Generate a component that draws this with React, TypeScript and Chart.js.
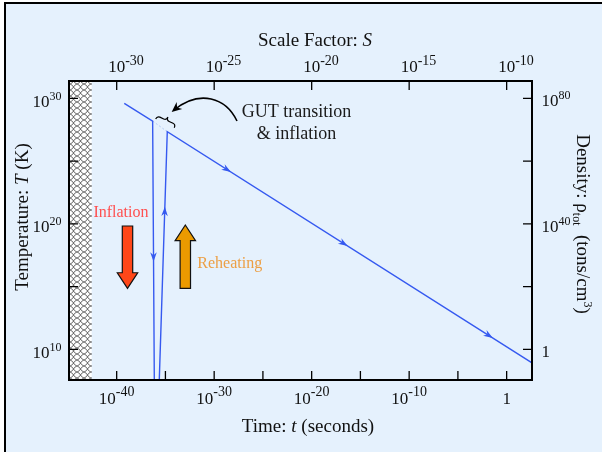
import React, { useEffect, useRef } from 'react';
import { Chart, registerables } from 'chart.js';
Chart.register(...registerables);

// ---- data (log10 exponents) ----
const TIME_EXP = [-39.22, -36.31, -36.14, -35.63, -34.81, 2.6];
const TEMP_EXP = [29.6, 28.19, 7.56, 7.56, 27.34, 8.93];
const GAP_TIME_EXP = [-36.31, -34.81];
const GAP_TEMP_EXP = [28.19, 27.34];
const PLANCK_EXP = -42.56;

const TIME_RANGE = [-44.89, 2.6];
const TEMP_RANGE = [7.56, 31.38];
const SCALE_RANGE = [-32.446, -8.7];
const DENSITY_RANGE = [-9.79, 85.51];

const TIME_TICKS = [-40, -35, -30, -25, -20, -15, -10, -5, 0];
const TIME_LABELS = [-40, -30, -20, -10, 0];
const SCALE_TICKS = [-30, -25, -20, -15, -10];
const SCALE_LABELS = [-30, -25, -20, -15, -10];
const TEMP_TICKS = [10, 15, 20, 25, 30];
const TEMP_LABELS = [10, 20, 30];
const DENSITY_TICKS = [0, 20, 40, 60, 80];
const DENSITY_LABELS = [0, 40, 80];

// flow arrowheads along the path: segment index and fraction
const FLOW_SEG = [4, 4, 4, 1, 3];
const FLOW_T = [0.163, 0.483, 0.881, 0.524, 0.678];

// annotation anchors (exponents)
const INFLATION_ARROW = [-38.89, 19.83, 14.86];
const REHEAT_ARROW = [-32.96, 14.86, 19.91];
const INFLATION_TEXT = [-39.56, 21.02];
const REHEAT_TEXT = [-31.73, 16.93];
const GUT_TEXT = [-21.56, 29.01, 27.26];

const BLUE = '#3559f0';
const BG = '#e5f1fd';
const SERIF = '"Liberation Serif", "Times New Roman", serif';

type Part = { t: string; f: string; dy?: number; c?: string };

function drawRich(ctx: CanvasRenderingContext2D, parts: Part[], x: number, y: number, align: string, color = '#111') {
  ctx.textBaseline = 'alphabetic';
  ctx.textAlign = 'left';
  let w = 0;
  const ws: number[] = [];
  for (const p of parts) {
    ctx.font = p.f;
    const m = ctx.measureText(p.t).width;
    ws.push(m);
    w += m;
  }
  let sx = align === 'center' ? x - w / 2 : align === 'right' ? x - w : x;
  parts.forEach((p, i) => {
    ctx.font = p.f;
    ctx.fillStyle = p.c || color;
    ctx.fillText(p.t, sx, y + (p.dy || 0));
    sx += ws[i];
  });
}

function powParts(e: number, base: string, sup: string, raise: number): Part[] {
  if (e === 0) return [{ t: '1', f: base }];
  return [
    { t: '10', f: base },
    { t: String(e), f: sup, dy: -raise },
  ];
}

function makeHatch(ctx: CanvasRenderingContext2D) {
  const c = document.createElement('canvas');
  c.width = 7;
  c.height = 6;
  const g = c.getContext('2d')!;
  g.fillStyle = '#ffffff';
  g.fillRect(0, 0, 7, 6);
  g.strokeStyle = '#3a3a3a';
  g.lineWidth = 0.75;
  g.beginPath();
  g.moveTo(0, 0);
  g.bezierCurveTo(4, 1, 3, 5, 7, 6);
  g.moveTo(7, 0);
  g.bezierCurveTo(3, 1, 4, 5, 0, 6);
  g.stroke();
  return ctx.createPattern(c, 'repeat');
}

const decor = {
  id: 'decor',
  beforeDraw(chart: any) {
    const ctx: CanvasRenderingContext2D = chart.ctx;
    ctx.save();
    ctx.fillStyle = '#ffffff';
    ctx.fillRect(0, 0, chart.width, chart.height);
    ctx.fillStyle = BG;
    ctx.fillRect(4, 2, chart.width - 4, chart.height - 2);
    ctx.fillStyle = '#000';
    ctx.fillRect(4, 2, chart.width - 4, 2);
    ctx.fillRect(4, 2, 2, chart.height - 2);
    ctx.restore();
  },
  beforeDatasetsDraw(chart: any) {
    const ctx: CanvasRenderingContext2D = chart.ctx;
    const a = chart.chartArea;
    const xr = chart.scales.x.getPixelForValue(Math.pow(10, PLANCK_EXP));
    ctx.save();
    const pat = makeHatch(ctx);
    if (pat) ctx.fillStyle = pat;
    ctx.fillRect(a.left, a.top, xr - a.left, a.bottom - a.top);
    ctx.restore();
  },
  afterDatasetsDraw(chart: any) {
    const ctx: CanvasRenderingContext2D = chart.ctx;
    const a = chart.chartArea;
    const sx = chart.scales.x, sy = chart.scales.y, sS = chart.scales.xS, sD = chart.scales.yD;
    const X = (e: number) => sx.getPixelForValue(Math.pow(10, e));
    const Y = (e: number) => sy.getPixelForValue(Math.pow(10, e));
    const meta = chart.getDatasetMeta(0);
    ctx.save();

    // flow arrowheads
    ctx.fillStyle = BLUE;
    FLOW_SEG.forEach((s, i) => {
      const p0 = meta.data[s], p1 = meta.data[s + 1];
      const t = FLOW_T[i];
      const px = p0.x + (p1.x - p0.x) * t;
      const py = p0.y + (p1.y - p0.y) * t;
      let dx = p1.x - p0.x, dy = p1.y - p0.y;
      const L = Math.hypot(dx, dy);
      dx /= L; dy /= L;
      const nx = -dy, ny = dx;
      const tipX = px + dx * 5, tipY = py + dy * 5;
      const bx = px - dx * 4.5, by = py - dy * 4.5;
      ctx.beginPath();
      ctx.moveTo(tipX, tipY);
      ctx.lineTo(bx + nx * 3.3, by + ny * 3.3);
      ctx.lineTo(px - dx * 1.5, py - dy * 1.5);
      ctx.lineTo(bx - nx * 3.3, by - ny * 3.3);
      ctx.closePath();
      ctx.fill();
    });

    // brace over the GUT gap
    const b0 = meta.data[1], b1 = meta.data[4];
    const Lx = b0.x + 3, Ly = b0.y - 2, Rx = b1.x + 7, Ry = b1.y - 4;
    let ux = Rx - Lx, uy = Ry - Ly;
    const w = Math.hypot(ux, uy);
    ux /= w; uy /= w;
    const vx = uy, vy = -ux; // upward normal
    const h = 7;
    const P = (u: number, v: number): [number, number] => [Lx + u * ux + v * vx, Ly + u * uy + v * vy];
    ctx.strokeStyle = '#000';
    ctx.lineWidth = 1.2;
    ctx.beginPath();
    let q = P(0, 0); ctx.moveTo(q[0], q[1]);
    let c = P(0, h / 2); q = P(3, h / 2); ctx.quadraticCurveTo(c[0], c[1], q[0], q[1]);
    q = P(w / 2 - 3, h / 2); ctx.lineTo(q[0], q[1]);
    c = P(w / 2, h / 2); q = P(w / 2, h); ctx.quadraticCurveTo(c[0], c[1], q[0], q[1]);
    c = P(w / 2, h / 2); q = P(w / 2 + 3, h / 2); ctx.quadraticCurveTo(c[0], c[1], q[0], q[1]);
    q = P(w - 3, h / 2); ctx.lineTo(q[0], q[1]);
    c = P(w, h / 2); q = P(w, 0); ctx.quadraticCurveTo(c[0], c[1], q[0], q[1]);
    ctx.stroke();

    // curved pointer arrow
    const p0x = 237, p0y = 121, c1x = 226, c1y = 98, c2x = 200, c2y = 89, p3x = 174, p3y = 110;
    ctx.lineWidth = 1.6;
    ctx.beginPath();
    ctx.moveTo(p0x, p0y);
    ctx.bezierCurveTo(c1x, c1y, c2x, c2y, p3x, p3y);
    ctx.stroke();
    {
      let dx = p3x - c2x, dy = p3y - c2y;
      const L = Math.hypot(dx, dy);
      dx /= L; dy /= L;
      const nx = -dy, ny = dx;
      const tipX = p3x + dx * 3, tipY = p3y + dy * 3;
      const bx = tipX - dx * 10, by = tipY - dy * 10;
      ctx.fillStyle = '#000';
      ctx.beginPath();
      ctx.moveTo(tipX, tipY);
      ctx.lineTo(bx + nx * 4.5, by + ny * 4.5);
      ctx.lineTo(tipX - dx * 7, tipY - dy * 7);
      ctx.lineTo(bx - nx * 4.5, by - ny * 4.5);
      ctx.closePath();
      ctx.fill();
    }

    // block arrows
    const blockArrow = (cx: number, y0: number, tip: number, fill: string) => {
      const dir = tip > y0 ? 1 : -1;
      const hb = tip - dir * 15.6;
      ctx.beginPath();
      ctx.moveTo(cx - 5.2, y0);
      ctx.lineTo(cx + 5.2, y0);
      ctx.lineTo(cx + 5.2, hb);
      ctx.lineTo(cx + 10.2, hb);
      ctx.lineTo(cx, tip);
      ctx.lineTo(cx - 10.2, hb);
      ctx.lineTo(cx - 5.2, hb);
      ctx.closePath();
      ctx.fillStyle = fill;
      ctx.fill();
      ctx.strokeStyle = '#111';
      ctx.lineWidth = 1.2;
      ctx.stroke();
    };
    blockArrow(X(INFLATION_ARROW[0]), Y(INFLATION_ARROW[1]), Y(INFLATION_ARROW[2]), '#ff4719');
    blockArrow(X(REHEAT_ARROW[0]), Y(REHEAT_ARROW[1]), Y(REHEAT_ARROW[2]), '#eb9a00');

    // annotation text
    drawRich(ctx, [{ t: 'Inflation', f: `16px ${SERIF}` }], X(INFLATION_TEXT[0]), Y(INFLATION_TEXT[1]) + 5.5, 'center', '#ff4f4f');
    drawRich(ctx, [{ t: 'Reheating', f: `16px ${SERIF}` }], X(REHEAT_TEXT[0]), Y(REHEAT_TEXT[1]) + 5.5, 'left', '#ec9f44');
    drawRich(ctx, [{ t: 'GUT transition', f: `18px ${SERIF}` }], X(GUT_TEXT[0]), Y(GUT_TEXT[1]) + 6, 'center', '#1a1a1a');
    drawRich(ctx, [{ t: '& inflation', f: `18px ${SERIF}` }], X(GUT_TEXT[0]), Y(GUT_TEXT[2]) + 6, 'center', '#1a1a1a');

    // frame
    ctx.strokeStyle = '#000';
    ctx.lineWidth = 2;
    ctx.strokeRect(a.left, a.top, a.right - a.left, a.bottom - a.top);

    // ticks
    ctx.lineWidth = 1.3;
    ctx.beginPath();
    TIME_TICKS.forEach((e) => { const x = X(e); ctx.moveTo(x, a.bottom); ctx.lineTo(x, a.bottom - 9); });
    SCALE_TICKS.forEach((e) => { const x = sS.getPixelForValue(Math.pow(10, e)); ctx.moveTo(x, a.top); ctx.lineTo(x, a.top + 9); });
    TEMP_TICKS.forEach((e) => { const y = Y(e); ctx.moveTo(a.left, y); ctx.lineTo(a.left + 9, y); });
    DENSITY_TICKS.forEach((e) => { const y = sD.getPixelForValue(Math.pow(10, e)); ctx.moveTo(a.right, y); ctx.lineTo(a.right - 9, y); });
    ctx.stroke();

    // tick labels
    const base = `17px ${SERIF}`;
    const sup14 = `14px ${SERIF}`;
    const sup12 = `12px ${SERIF}`;
    TIME_LABELS.forEach((e) => drawRich(ctx, powParts(e, base, sup14, 7.5), X(e), a.bottom + 23.5, 'center'));
    SCALE_LABELS.forEach((e) => {
      ctx.font = base;
      const w10 = ctx.measureText('10').width;
      drawRich(ctx, powParts(e, base, sup14, 7.5), sS.getPixelForValue(Math.pow(10, e)) - w10 / 2, a.top - 8.7, 'left');
    });
    TEMP_LABELS.forEach((e) => drawRich(ctx, powParts(e, base, sup12, 7), a.left - 7.5, Y(e) + 8.3, 'right'));
    DENSITY_LABELS.forEach((e) => drawRich(ctx, powParts(e, base, sup12, 7), a.right + 9.5, sD.getPixelForValue(Math.pow(10, e)) + 8, 'left'));

    // axis titles
    const tf = `19px ${SERIF}`;
    const tfi = `italic 19px ${SERIF}`;
    drawRich(ctx, [{ t: 'Scale Factor: ', f: tf }, { t: 'S', f: tfi }], 315, 46, 'center');
    drawRich(ctx, [{ t: 'Time: ', f: tf }, { t: 't', f: tfi }, { t: ' (seconds)', f: tf }], 308, 432, 'center');
    ctx.save();
    ctx.translate(28, 217);
    ctx.rotate(-Math.PI / 2);
    drawRich(ctx, [{ t: 'Temperature: ', f: tf }, { t: 'T', f: tfi }, { t: ' (K)', f: tf }], 0, 0, 'center');
    ctx.restore();
    ctx.save();
    ctx.translate(577, 224);
    ctx.rotate(Math.PI / 2);
    drawRich(ctx, [
      { t: 'Density: ρ', f: tf },
      { t: 'tot', f: `12px ${SERIF}`, dy: 4 },
      { t: '  (tons/cm', f: tf },
      { t: '3', f: `12px ${SERIF}`, dy: -7 },
      { t: ')', f: tf },
    ], 0, 0, 'center');
    ctx.restore();

    ctx.restore();
  },
};

export default function App() {
  const ref = useRef<HTMLCanvasElement>(null);
  useEffect(() => {
    const canvas = ref.current!;
    const pts = TIME_EXP.map((e, i) => ({ x: Math.pow(10, e), y: Math.pow(10, TEMP_EXP[i]) }));
    const gap = GAP_TIME_EXP.map((e, i) => ({ x: Math.pow(10, e), y: Math.pow(10, GAP_TEMP_EXP[i]) }));
    const chart = new Chart(canvas, {
      type: 'scatter',
      data: {
        datasets: [
          { data: pts, showLine: true, borderColor: BLUE, borderWidth: 1.4, pointRadius: 0, xAxisID: 'x', yAxisID: 'y', tension: 0 } as any,
          { data: gap, showLine: true, borderColor: '#b3c9f3', borderWidth: 1, borderDash: [2, 2], pointRadius: 0, xAxisID: 'x', yAxisID: 'y' } as any,
        ],
      },
      options: {
        animation: false,
        responsive: false,
        events: [],
        layout: { padding: { left: 69, top: 81, right: 70, bottom: 72 } },
        plugins: { legend: { display: false }, tooltip: { enabled: false } },
        scales: {
          x: { type: 'logarithmic', min: Math.pow(10, TIME_RANGE[0]), max: Math.pow(10, TIME_RANGE[1]), display: false },
          xS: { type: 'logarithmic', position: 'top', min: Math.pow(10, SCALE_RANGE[0]), max: Math.pow(10, SCALE_RANGE[1]), display: false },
          y: { type: 'logarithmic', min: Math.pow(10, TEMP_RANGE[0]), max: Math.pow(10, TEMP_RANGE[1]), display: false },
          yD: { type: 'logarithmic', position: 'right', min: Math.pow(10, DENSITY_RANGE[0]), max: Math.pow(10, DENSITY_RANGE[1]), display: false },
        },
      } as any,
      plugins: [decor],
    });
    return () => chart.destroy();
  }, []);
  return (
    <div style={{ position: 'fixed', left: 0, top: 0, width: 602, height: 452 }}>
      <canvas ref={ref} width={602} height={452} style={{ display: 'block', width: 602, height: 452 }} />
    </div>
  );
}
